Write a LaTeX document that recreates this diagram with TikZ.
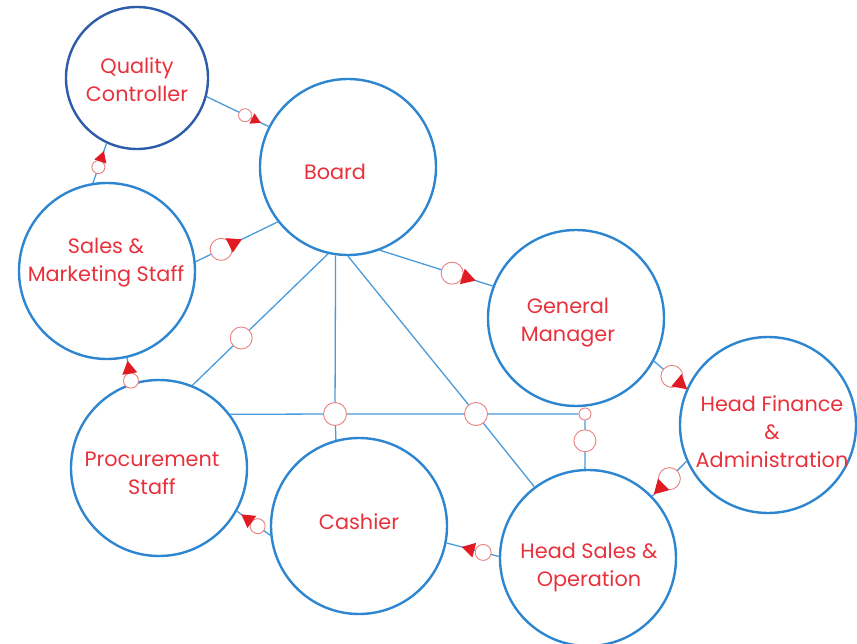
\documentclass[tikz,border=0pt]{standalone}
\usepackage{fontspec}
\setmainfont{Poppins}
\usetikzlibrary{shapes.geometric}
\definecolor{unitblue}{RGB}{46,134,208}
\definecolor{qcblue}{RGB}{44,92,170}
\definecolor{linkblue}{RGB}{74,155,219}
\definecolor{txtred}{RGB}{232,49,60}
\definecolor{ringred}{RGB}{234,128,128}
\definecolor{tipred}{RGB}{224,27,36}
\tikzset{
    unit/.style={circle, draw=unitblue, line width=2.4pt, minimum size=176pt, inner sep=0pt},
    txt/.style={text=txtred, font=\fontsize{20.8}{28}\selectfont, align=center},
    link/.style={draw=linkblue, line width=1.3pt},
    ring/.style={circle, draw=ringred, fill=white, line width=0.9pt, inner sep=0pt, minimum size=#1},
    ring/.default=22pt,
    tip/.style={isosceles triangle, isosceles triangle apex angle=60, fill=tipred, inner sep=0pt, minimum height=#1, sloped, allow upside down},
    tip/.default=14pt
}

\begin{document}
\begin{tikzpicture}[x=1pt, y=-1pt]
        \useasboundingbox (0,0) rectangle (857,644);

        \node[unit, draw=qcblue, minimum size=142pt] (qc) at (137,78) {};
        \node[unit] (board) at (348,167) {};
        \node[unit] (sales) at (107,271) {};
        \node[unit] (gm) at (576,318) {};
        \node[unit] (hf) at (768,425) {};
        \node[unit] (proc) at (159,468) {};
        \node[unit] (cashier) at (359,526) {};
        \node[unit] (hs) at (588,558) {};

        \node[txt] at (137,80) {Quality\\Controller};
        \node[txt] at (335,172) {Board};
        \node[txt] at (106,263) {Sales \&\\Marketing Staff};
        \node[txt] at (568,323) {General\\Manager};
        \node[txt] at (772,432) {Head Finance\\\&\\Administration};
        \node[txt] at (152,473) {Procurement\\Staff};
        \node[txt] at (359,522) {Cashier};
        \node[txt] at (589,568) {Head Sales \&\\Operation};

        \node[ring=23pt] (j1) at (335,414) {};
        \node[ring=23pt] (j2) at (476,414) {};
        \node[ring=12pt] (j3) at (585,414) {};

        \draw[link] (qc.-15) -- node[ring=13pt, pos=.62]{} node[tip=10pt, pos=.78]{} (board.153);
        \draw[link] (sales.99) -- node[ring=13pt, pos=.4]{} node[tip=11pt, pos=.63]{} (qc.-115);
        \draw[link] (sales.6) -- node[ring, pos=.31]{} node[tip, pos=.46]{} (board.218);
        \draw[link] (board.-69) -- node[ring, pos=.64]{} node[tip, pos=.77]{} (gm.159);
        \draw[link] (gm.-29) -- node[ring, pos=.55]{} node[tip, pos=.8]{} (hf.156);
        \draw[link] (hf.204) -- node[ring, pos=.5]{} node[tip, pos=.76]{} (hs.44);
        \draw[link] (hs.179) -- node[ring=16pt, pos=.3]{} node[tip=13pt, pos=.55]{} (cashier.-11);
        \draw[link] (cashier.186) -- node[ring=15pt, pos=.38]{} node[tip=13pt, pos=.66]{} (proc.-29);
        \draw[link] (proc.108) -- node[ring=15pt, pos=.1]{} node[tip=13pt, pos=.55]{} (sales.-77);

        \draw[link] (board.-103) -- node[ring, pos=.64]{} (proc.68);
        \draw[link] (board.-98.5) -- (j1) -- (cashier.105.8);
        \draw[link] (board.-90) -- (j2) -- (hs.127);
        \draw[link] (proc.37.8) -- (j1) -- (j2) -- (j3);
        \draw[link] (j3) -- node[ring, pos=.42]{} (hs.92);
    \end{tikzpicture}
\end{document}
